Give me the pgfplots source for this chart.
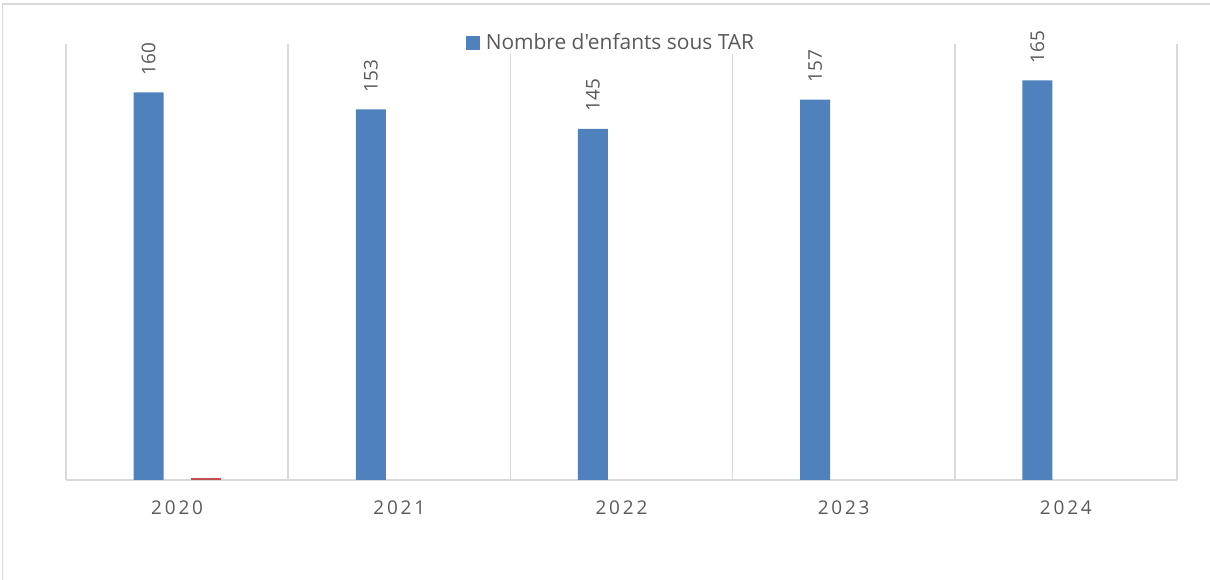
\documentclass[border=0pt]{standalone}
\usepackage{fontspec}
\setmainfont{Open Sans}
\newfontfamily\legfont[Ligatures=TeXOff]{Open Sans}
\newfontfamily\spaced[LetterSpace=15]{Open Sans}
\usepackage{pgfplots}
\pgfplotsset{compat=1.18}
\definecolor{barblue}{HTML}{4F81BD}
\definecolor{barred}{HTML}{C0504D}
\definecolor{gridgray}{HTML}{D9D9D9}
\definecolor{txtgray}{HTML}{595959}
\begin{document}
\begin{tikzpicture}
\path[use as bounding box] (0bp,0bp) rectangle (1210bp,580bp);
\draw[gridgray, line width=1.5bp] (2.5bp,0bp) -- (2.5bp,576bp) -- (1210bp,576bp);
\begin{axis}[
  at={(66bp,100bp)}, anchor=south west,
  width=1111bp, height=436bp, scale only axis,
  xmin=-0.5, xmax=4.5, ymin=0, ymax=180,
  /pgf/number format/assume math mode=true,
  axis y line=none,
  axis x line*=bottom,
  x axis line style={gridgray, line width=1.5bp, -},
  xtick={0,1,2,3,4},
  xticklabels={2020,2021,2022,2023,2024},
  major tick length=0pt, minor tick length=0pt,
  minor xtick={-0.5,0.5,1.5,2.5,3.5,4.5},
  xminorgrids=true,
  minor x grid style={gridgray, line width=1.5bp},
  xticklabel style={font=\spaced\fontsize{19}{19}\selectfont, text=txtgray, yshift=-17bp},
  ybar, bar width=30bp,
  clip=false,
  legend style={at={(0.4905,1.0034)}, anchor=center, draw=none, fill=white,
    font=\legfont\fontsize{21}{22}\selectfont, text=txtgray, inner sep=1bp},
]
\addplot[fill=barblue, draw=none, bar shift=-28.5bp,
  nodes near coords,
  every node near coord/.append style={yshift=17bp, rotate=90, anchor=west, inner sep=0pt,
    font=\fontsize{19}{19}\selectfont, text=txtgray},
  legend image code/.code={\fill[barblue] (-4bp,-7bp) rectangle (10bp,7bp);}]
  coordinates {(0,160) (1,153) (2,145) (3,157) (4,165)};
\addlegendentry{\hspace{4bp}Nombre d'enfants sous TAR}
\addplot[fill=barred, draw=none, bar shift=28.5bp, forget plot]
  coordinates {(0,1)};
\end{axis}
\end{tikzpicture}
\end{document}
